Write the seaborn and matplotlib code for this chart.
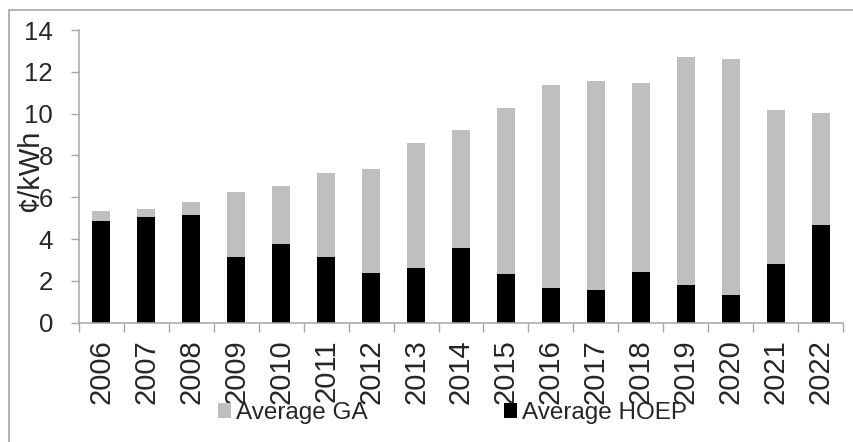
import matplotlib
matplotlib.use("Agg")
import matplotlib.pyplot as plt
from matplotlib.patches import Patch, Rectangle
import numpy as np
import pandas as pd
import seaborn as sns

# Annual averages, cents per kWh
years = ["2006", "2007", "2008", "2009", "2010", "2011", "2012", "2013", "2014",
         "2015", "2016", "2017", "2018", "2019", "2020", "2021", "2022"]
avg_hoep = [4.88, 5.04, 5.17, 3.16, 3.78, 3.13, 2.39, 2.63, 3.59,
            2.33, 1.65, 1.55, 2.43, 1.82, 1.34, 2.79, 4.69]
avg_ga = [0.46, 0.40, 0.62, 3.09, 2.76, 4.05, 4.98, 5.97, 5.64,
          7.93, 9.72, 10.01, 9.05, 10.89, 11.29, 7.37, 5.33]
series_names = ["Average GA", "Average HOEP"]

GA_COLOR = "#BFBFBF"
HOEP_COLOR = "#000000"
AXIS_GRAY = "#A6A6A6"

sns.set_theme(style="white")
plt.rcParams["font.family"] = ["Liberation Sans", "DejaVu Sans"]

df = pd.DataFrame({"year": years, "hoep": avg_hoep, "ga": avg_ga})
df["total"] = df["hoep"] + df["ga"]

fig = plt.figure(figsize=(8.54, 4.42), dpi=100)
ax = fig.add_axes([79 / 854, 1 - 322.7 / 442, 764 / 854, 292.7 / 442])

# Stacked bars: full height in grey, HOEP portion in black on top of it
sns.barplot(data=df, x="year", y="total", color=GA_COLOR, width=0.4,
            saturation=1, ax=ax, linewidth=0)
sns.barplot(data=df, x="year", y="hoep", color=HOEP_COLOR, width=0.4,
            saturation=1, ax=ax, linewidth=0)

ax.set_xlim(-0.5, len(years) - 0.5)
ax.set_ylim(0, 14)
ax.set_yticks(np.arange(0, 15, 2))

# Category boundaries carry the tick marks, labels sit centred under bars
ax.set_xticks(np.arange(-0.5, len(years), 1.0), minor=True)
ax.tick_params(axis="x", which="minor", length=6.5, width=1, color=AXIS_GRAY,
               direction="out", bottom=True)
ax.tick_params(axis="x", which="major", length=0, pad=12, labelsize=21,
               labelrotation=90, bottom=True)
ax.tick_params(axis="y", which="major", length=5.8, width=1, color=AXIS_GRAY,
               direction="out", pad=13, labelsize=18.5, left=True)

for side in ("top", "right"):
    ax.spines[side].set_visible(False)
for side in ("left", "bottom"):
    ax.spines[side].set_color(AXIS_GRAY)
    ax.spines[side].set_linewidth(1.1)

ax.set_xlabel("")
ax.set_ylabel("¢/kWh", fontsize=21, labelpad=0)
ax.yaxis.set_label_coords(-0.046, 0.52)

handles = [Patch(facecolor=GA_COLOR, edgecolor="none"),
           Patch(facecolor=HOEP_COLOR, edgecolor="none")]
fig.legend(handles, series_names, loc="center", bbox_to_anchor=(452.5 / 854, 1 - 413 / 442),
           ncol=2, frameon=False, fontsize=17.5, handlelength=0.53, handleheight=0.53,
           handletextpad=0.22, columnspacing=5.6, borderpad=0, borderaxespad=0)

# Outer chart frame
fig.add_artist(Rectangle((8.5 / 854, -0.5), 2.0, 1.5 - 9.5 / 442,
                         transform=fig.transFigure, fill=False,
                         edgecolor=AXIS_GRAY, linewidth=1.2, clip_on=False))

fig.savefig("out.png", dpi=100)
